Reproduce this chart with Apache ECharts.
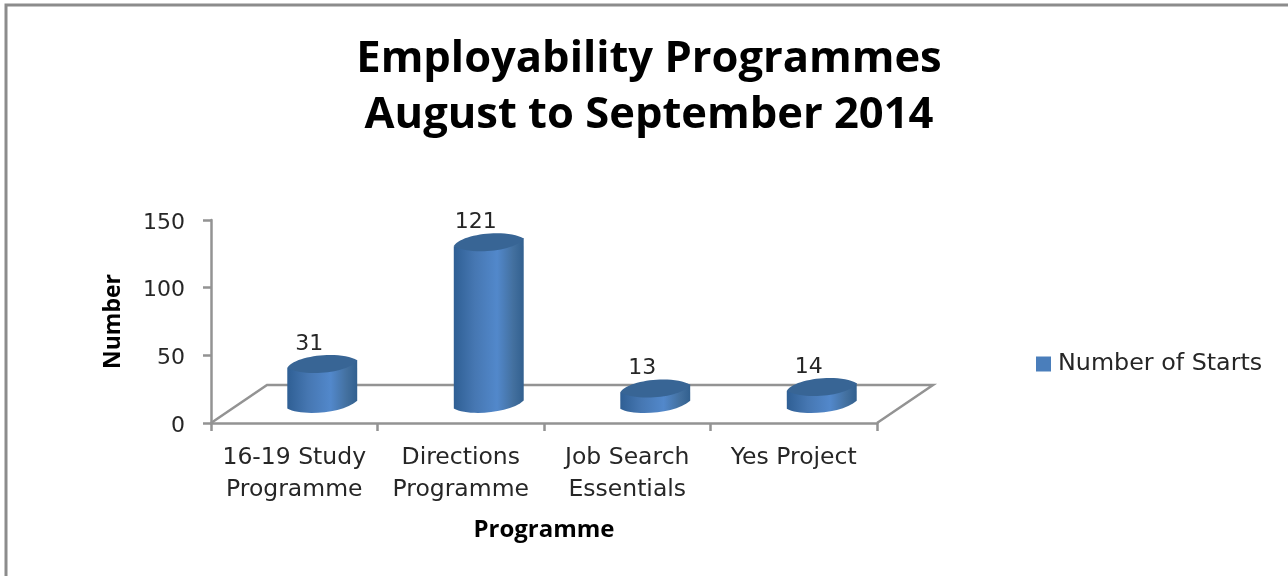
<!DOCTYPE html>
<html><head><meta charset="utf-8">
<style>html,body{margin:0;padding:0;background:#fff}#c{width:1288px;height:576px}</style>
<script src="https://cdn.jsdelivr.net/npm/echarts@6/dist/echarts.min.js"></script>
</head><body><div id="c"></div>
<script>
const categories = ['16-19 Study\nProgramme', 'Directions\nProgramme', 'Job Search\nEssentials', 'Yes Project'];
const starts = [31, 121, 13, 14];
const yTicks = [0, 50, 100, 150];
const seriesName = 'Number of Starts';
const titleLines = 'Employability Programmes\nAugust to September 2014';

const FONT = '"DejaVu Sans"';
const FONT_B = '"Open Sans"';
const GREY = '#939393';
const depthX = 56, depthY = -38;

const chart = echarts.init(document.getElementById('c'), null, {renderer:'canvas'});

function cylinder(params, api){
  const i = api.value(0), v = api.value(1);
  const top = api.coord([i, v]);
  const base = api.coord([i, 0]);
  const bw = api.size([1,0])[0];
  const cx = base[0] + depthX/2;
  const rx = bw * 0.21, ry = 8;
  const yT = top[1] + depthY/2 + 2, yB = base[1] + depthY/2 + 1;
  const tilt = 4;
  const side = new echarts.graphic.LinearGradient(0,0,1,0,[
    {offset:0,color:'#2f5f94'},{offset:0.3,color:'#4677b2'},
    {offset:0.62,color:'#5288cb'},{offset:0.85,color:'#43709f'},{offset:1,color:'#32608f'}]);
  const pathSide = 'M'+(cx-rx)+' '+(yT+tilt)+
    ' L'+(cx-rx)+' '+(yB+tilt)+
    ' C'+(cx-rx*0.6)+' '+(yB+ry+4)+' '+(cx+rx*0.6)+' '+(yB+ry+1)+' '+(cx+rx)+' '+(yB-tilt)+
    ' L'+(cx+rx)+' '+(yT-tilt)+' Z';
  const pathTop = 'M'+(cx-rx)+' '+(yT+tilt)+
    ' C'+(cx-rx*0.75)+' '+(yT-ry-2)+' '+(cx+rx*0.55)+' '+(yT-ry-6)+' '+(cx+rx)+' '+(yT-tilt)+
    ' C'+(cx+rx*0.75)+' '+(yT+ry+2)+' '+(cx-rx*0.55)+' '+(yT+ry+6)+' '+(cx-rx)+' '+(yT+tilt)+' Z';
  return {type:'group',children:[
    {type:'path',shape:{pathData:pathSide,layout:'cover',x:cx-rx,y:yT-tilt,width:2*rx,height:yB-yT+ry+tilt},style:{fill:side}},
    {type:'path',shape:{pathData:pathTop,layout:'cover',x:cx-rx,y:yT-ry-1,width:2*rx,height:2*ry+2},style:{fill:'#386595'}},
    {type:'text',style:{text:String(starts[i]),x:cx-13,y:yT-ry-1,align:'center',verticalAlign:'bottom',font:'22px '+FONT,fill:'#262626'}}
  ]};
}

function floor(params, api){
  const half = api.size([1,0])[0]/2;
  const c0 = api.coord([0,0]), c1 = api.coord([categories.length-1,0]);
  const a = [c0[0]-half,c0[1]], b = [c1[0]+half,c1[1]];
  return {type:'polyline',shape:{points:[a,[a[0]+depthX,a[1]+depthY],[b[0]+depthX,b[1]+depthY],b]},
    style:{fill:'none',stroke:GREY,lineWidth:2.5}};
}

chart.setOption({
  animation:false,
  backgroundColor:'#fff',
  graphic:[{type:'polyline',silent:true,z:-1,shape:{points:[[6,600],[6,5],[1300,5]]},style:{fill:'none',stroke:'#8c8c8c',lineWidth:3}}],
  title:{text:titleLines,left:644,top:27,textAlign:'center',
    textStyle:{fontFamily:FONT_B,fontSize:43.5,fontWeight:'bold',color:'#000',lineHeight:56}},
  legend:{data:[{name:seriesName,icon:'rect',itemStyle:{color:'#4a7ebb'}}],left:1031,top:347,itemWidth:15,itemHeight:15,
    textStyle:{fontFamily:FONT,fontSize:23.8,color:'#262626',padding:[0,0,0,2]}},
  grid:{left:211,right:411,top:220,bottom:153,containLabel:false},
  xAxis:{type:'category',data:categories,boundaryGap:true,
    name:'Programme',nameLocation:'middle',nameGap:95,
    nameTextStyle:{fontFamily:FONT_B,fontSize:24,fontWeight:'bold',color:'#000'},
    axisLine:{lineStyle:{color:GREY,width:2.5}},axisTick:{show:true,length:8,alignWithLabel:false,lineStyle:{color:GREY,width:2.5}},
    axisLabel:{interval:0,fontFamily:FONT,fontSize:23.5,color:'#262626',lineHeight:32,margin:19}},
  yAxis:{type:'value',min:0,max:150,interval:50,
    name:'Number',nameLocation:'middle',nameGap:86,
    nameTextStyle:{fontFamily:FONT_B,fontSize:23,fontWeight:'bold',color:'#000'},
    axisLine:{show:true,lineStyle:{color:GREY,width:2.5}},axisTick:{show:true,length:8,lineStyle:{color:GREY,width:2.5}},
    splitLine:{show:false},
    axisLabel:{margin:26,formatter:v=>yTicks.includes(v)?'{t|'+v+'}':'',
      rich:{t:{fontFamily:FONT,fontSize:22,color:'#262626',padding:[6,0,0,0]}}}},
  series:[
    {type:'custom',silent:true,z:1,data:[[0]],renderItem:floor,encode:{x:0},clip:false,tooltip:{show:false}},
    {type:'custom',name:seriesName,z:2,data:starts.map((v,i)=>[i,v]),renderItem:cylinder,encode:{x:0,y:1},clip:false,itemStyle:{color:'#4a7ebb'}}
  ]
});
</script></body></html>
